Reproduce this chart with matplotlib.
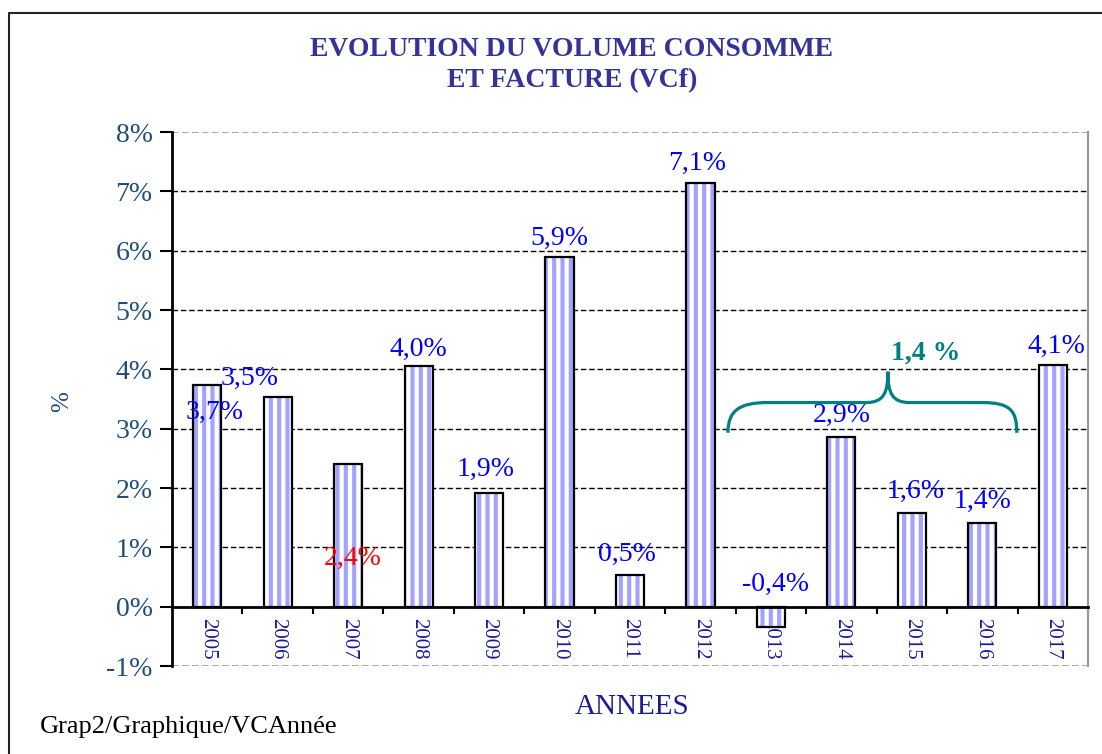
import numpy as np
import matplotlib.pyplot as plt
from matplotlib.path import Path
from matplotlib.patches import PathPatch
from matplotlib.lines import Line2D

# police serif type Times
plt.rcParams["font.family"] = ["Liberation Serif", "DejaVu Serif"]
plt.rcParams["hatch.linewidth"] = 3.0

# données
annees = ["2005", "2006", "2007", "2008", "2009", "2010", "2011",
          "2012", "2013", "2014", "2015", "2016", "2017"]
valeurs = [3.74, 3.54, 2.41, 4.06, 1.92, 5.89, 0.54, 7.14, -0.35, 2.86, 1.58, 1.41, 4.07]
etiquettes = ["3,7%", "3,5%", "2,4%", "4,0%", "1,9%", "5,9%", "0,5%",
              "7,1%", "-0,4%", "2,9%", "1,6%", "1,4%", "4,1%"]
couleurs_etiq = ["blue", "blue", "red"] + ["blue"] * 10
# position des étiquettes (comme sur l'original, certaines sont décalées)
etiq_dx = [0.1, -0.4, 0.06, 0.0, -0.05, 0.0, -0.05, -0.05, 0.07, 0.0, 0.05, 0.0, 0.05]
etiq_y = [3.27, 3.84, 0.82, 4.34, 2.31, 6.20, 0.88, 7.47, 0.37, 3.22, 1.94, 1.77, 4.38]
y_ticks = list(range(-1, 9))
moyenne_txt = "1,4 %"

navy = "#333399"
bleu_axe = "#1f4e79"
teal = "#008080"

fig = plt.figure(figsize=(11.02, 7.54), dpi=100)
ax = fig.add_axes([172/1102, 1 - 666/754, 916/1102, 534/754])

x = np.arange(len(annees))
# barres rayées bleu clair + contour noir
ax.bar(x, valeurs, width=0.4, color="white", edgecolor="#a3a3ff", hatch="||", linewidth=0, zorder=3)
ax.bar(x, valeurs, width=0.4, fill=False, edgecolor="black", linewidth=1.6, zorder=4)

ax.set_xlim(-0.5, len(annees) - 0.5)
ax.set_ylim(-1, 8)

# grille
for yv in y_ticks:
    if yv in (-1, 8):
        ax.axhline(yv, color="#999999", ls=(0, (4, 2)), lw=1.2, zorder=1)
    elif yv != 0:
        ax.axhline(yv, color="black", ls=(0, (4, 2)), lw=1.0, zorder=1)

ax.spines["top"].set_visible(False)
ax.spines["right"].set_color("#999999")
ax.spines["right"].set_linewidth(1.5)
ax.spines["left"].set_linewidth(2)
ax.spines["bottom"].set_position(("data", 0))
ax.spines["bottom"].set_linewidth(2)
ax.spines["bottom"].set_zorder(5)

ax.set_yticks(y_ticks)
ax.set_yticklabels([f"{v}%" for v in y_ticks], color=bleu_axe, fontsize=20)
ax.tick_params(axis="y", length=9, width=1.5, pad=5)

ax.set_xticks(x)
ax.set_xticklabels(annees, rotation=270, color="#1a1a99", fontsize=15, va="top")
ax.set_xticks(np.arange(0.5, len(annees)), minor=True)
ax.tick_params(axis="x", which="major", length=0, pad=8)
ax.tick_params(axis="x", which="minor", length=5, width=1.5, direction="out")

# étiquettes des valeurs
for i in range(len(annees)):
    ax.text(x[i] + etiq_dx[i], etiq_y[i], etiquettes[i], color=couleurs_etiq[i],
            fontsize=20, ha="center", va="center", zorder=6)

# accolade sur 2013-2016
verts = [(7.39, 2.93), (7.39, 3.30), (7.55, 3.44), (7.95, 3.44),
         (9.35, 3.44),
         (9.60, 3.44), (9.66, 3.60), (9.66, 3.96),
         (9.66, 3.60), (9.72, 3.44), (9.97, 3.44),
         (11.0, 3.44),
         (11.40, 3.44), (11.49, 3.30), (11.49, 2.93)]
codes = [Path.MOVETO, Path.CURVE4, Path.CURVE4, Path.CURVE4,
         Path.LINETO,
         Path.CURVE4, Path.CURVE4, Path.CURVE4,
         Path.CURVE4, Path.CURVE4, Path.CURVE4,
         Path.LINETO,
         Path.CURVE4, Path.CURVE4, Path.CURVE4]
ax.add_patch(PathPatch(Path(verts, codes), fill=False, edgecolor=teal, lw=2.3, zorder=6))
ax.text(10.19, 4.28, moyenne_txt, color=teal, fontsize=20, fontweight="bold",
        ha="center", va="center", zorder=6)

# titres
fig.text(572/1102, 1 - 50/754, "EVOLUTION DU VOLUME CONSOMME", color=navy,
         fontsize=20, fontweight="bold", ha="center", va="center")
fig.text(572/1102, 1 - 81/754, "ET FACTURE (VCf)", color=navy,
         fontsize=20, fontweight="bold", ha="center", va="center")
fig.text(62/1102, 1 - 402/754, "%", color=bleu_axe, fontsize=18, rotation=90,
         ha="center", va="center")
fig.text(632/1102, 1 - 707/754, "ANNEES", color="#1a1a99", fontsize=21,
         ha="center", va="center")
fig.text(40/1102, 1 - 727/754, "Grap2/Graphique/VCAnnée", color="black",
         fontsize=19, ha="left", va="center")

# cadre extérieur
fig.add_artist(Line2D([9/1102, 9/1102, 1.0], [0.0, 1 - 13/754, 1 - 13/754],
                      transform=fig.transFigure, color="#222222", lw=1.5))

fig.savefig("out.png", dpi=100)
